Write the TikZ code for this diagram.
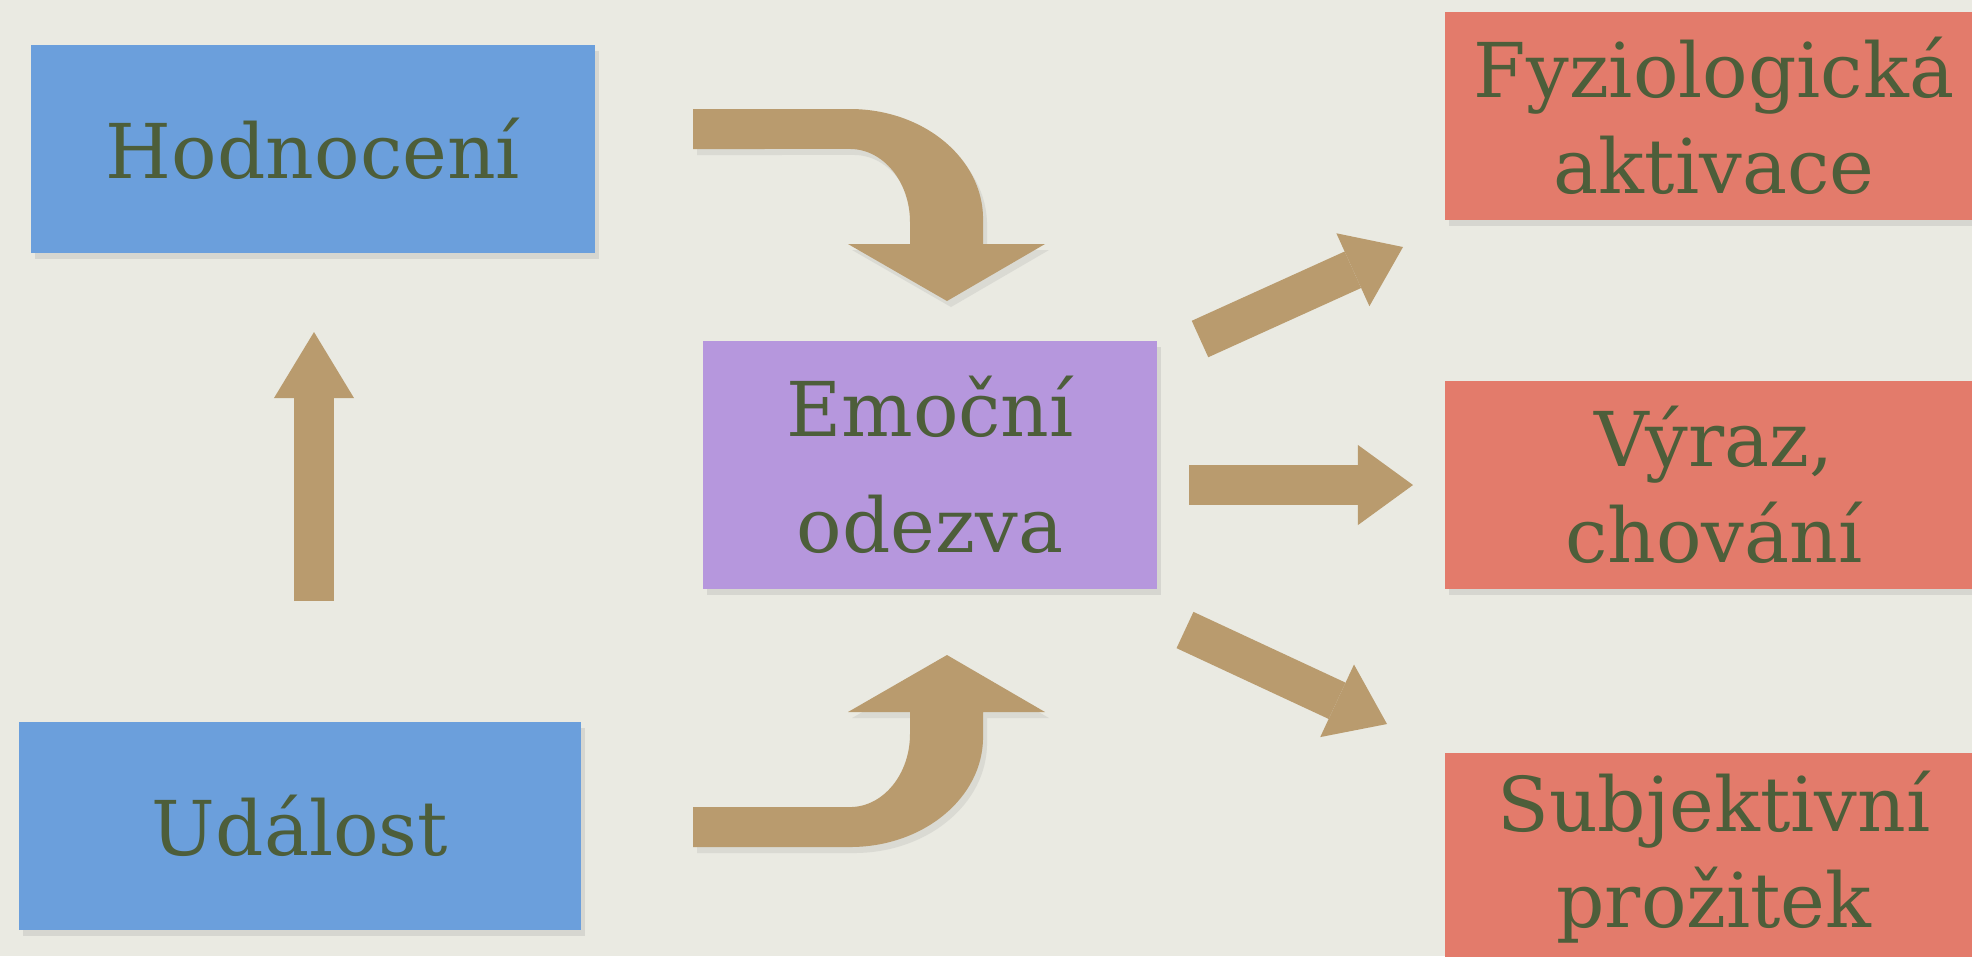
\documentclass[tikz,border=0pt]{standalone}
\usepackage{fontspec}
\setmainfont{DejaVu Serif}
\usetikzlibrary{arrows.meta,shadows}
\definecolor{paper}{HTML}{EAEAE2}
\definecolor{cueblue}{HTML}{6B9FDC}
\definecolor{emopurple}{HTML}{B697DD}
\definecolor{resred}{HTML}{E37B6B}
\definecolor{kraft}{HTML}{B99B6E}
\definecolor{ink}{HTML}{4D5E3A}
\tikzstyle{card}=[rectangle,inner sep=0pt,text=ink,align=center,font=\fontsize{21.5}{27.3}\selectfont,drop shadow={opacity=0.18,shadow xshift=0.4mm,shadow yshift=-0.6mm}]
\tikzstyle{cue}=[card,fill=cueblue,minimum height=2.08cm]
\tikzstyle{emotion}=[card,fill=emopurple,minimum width=4.53cm,minimum height=2.48cm]
\tikzstyle{response}=[card,fill=resred,minimum width=5.38cm,minimum height=2.08cm]
\tikzstyle{fatarrow}=[draw=kraft,line width=4mm,-{Triangle[width=8mm,length=5.5mm,line width=0pt]}]
\tikzstyle{bentarrow}=[fill=kraft,drop shadow={opacity=0.15,shadow xshift=0.4mm,shadow yshift=-0.6mm}]

\begin{document}
\begin{tikzpicture}[x=0.01cm,y=-0.01cm]
	\useasboundingbox (0,0) rectangle (1972,956);
	\clip (0,0) rectangle (1972,956);
	\fill[paper] (0,0) rectangle (1972,956);

	\node[cue, minimum width=5.64cm] (hodnoceni) at (313,149) {Hodnocení};
	\node[cue, minimum width=5.62cm] (udalost) at (300,826) {Událost};
	\node[emotion, font=\fontsize{21.5}{33}\selectfont] (odezva) at (930,465) {Emoční\\odezva};
	\node[response] (fyzio) at (1714,116) {Fyziologická\\aktivace};
	\node[response] (vyraz) at (1714,485) {Výraz,\\chování};
	\node[response] (prozitek) at (1714,857) {Subjektivní\\prožitek};

	% udalost -> hodnoceni
	\coordinate (up1) at (314,601);
	\coordinate (up2) at (314,332);
	\draw[fatarrow, -{Triangle[width=8mm,length=6.6mm,line width=0pt]}] (up1) -- (up2);

	% bent arrows into odezva
	\fill[bentarrow] (693,109) -- (850,109) arc[start angle=90,end angle=0,x radius=1.33cm,y radius=1.1cm]
		-- (983,244) -- (1045,244) -- (947,301) -- (848,244) -- (910,244) -- (910,222)
		arc[start angle=0,end angle=90,x radius=0.6cm,y radius=0.73cm] -- (693,149) -- cycle;
	\fill[bentarrow] (693,847) -- (850,847) arc[start angle=-90,end angle=0,x radius=1.33cm,y radius=1.1cm]
		-- (983,712) -- (1045,712) -- (947,655) -- (848,712) -- (910,712) -- (910,734)
		arc[start angle=0,end angle=-90,x radius=0.6cm,y radius=0.73cm] -- (693,807) -- cycle;

	% odezva -> responses
	\coordinate (f1) at (1200,339);
	\coordinate (f2) at (1403,247);
	\coordinate (v1) at (1189,485);
	\coordinate (v2) at (1413,485);
	\coordinate (p1) at (1185,630);
	\coordinate (p2) at (1387,724);
	\draw[fatarrow] (f1) -- (f2);
	\draw[fatarrow] (v1) -- (v2);
	\draw[fatarrow] (p1) -- (p2);
\end{tikzpicture}
\end{document}
